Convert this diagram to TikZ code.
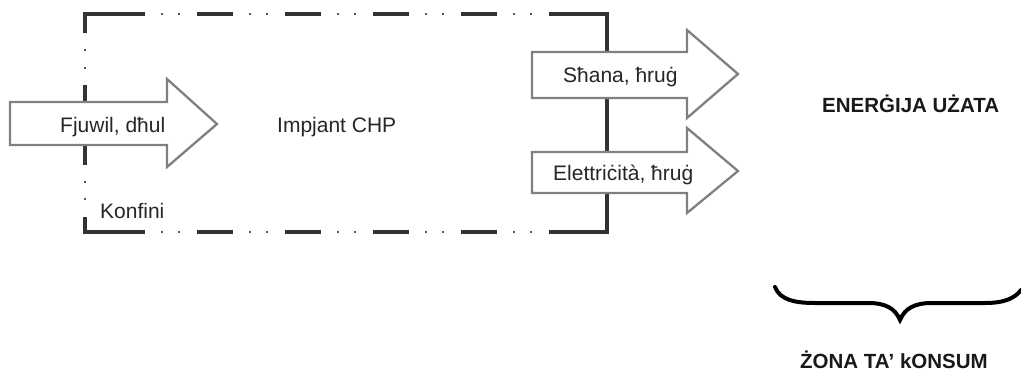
\documentclass[tikz,border=0pt]{standalone}
\usepackage{fontspec}
\setmainfont{Liberation Sans}
\begin{document}
\begin{tikzpicture}[x=1pt,y=-1pt,
  bound/.style={draw=black!80,line width=3.2pt},
  dotmark/.style={draw=black!65,line width=2.4pt},
  flow/.style={draw=black!50,line width=2.3pt,fill=white,line join=miter},
  lbl/.style={anchor=base west,inner sep=0pt,font=\fontsize{21}{24}\selectfont,text=black!85},
  blbl/.style={anchor=base west,inner sep=0pt,font=\fontsize{20.5}{24}\selectfont\bfseries,text=black!90}]
\useasboundingbox (0,0) rectangle (1021,378);
% boundary corners and right side
\draw[bound,line join=miter] (85,33) -- (85,14) -- (145,14);
\draw[bound,line join=miter] (85,217) -- (85,232) -- (145,232);
\draw[bound,line join=miter] (549,14) -- (607,14) -- (607,232) -- (549,232);
% top and bottom dashes
\foreach \i in {1,...,4}{
  \draw[bound] ({109+88*\i},14) -- ({145+88*\i},14);
  \draw[bound] ({109+88*\i},232) -- ({145+88*\i},232);
}
\foreach \i in {0,...,4}{
  \foreach \d in {17,34}{
    \draw[dotmark] ({145+88*\i+\d-1},14) -- ({145+88*\i+\d+1},14);
    \draw[dotmark] ({145+88*\i+\d-1},232) -- ({145+88*\i+\d+1},232);
  }
}
% left side
\draw[bound] (85,85) -- (85,165);
\foreach \y in {50,68,182,199}{
  \draw[dotmark] (85,\y-1) -- (85,\y+1);
}
% arrows
\draw[flow] (10,102) -- (167,102) -- (167,79) -- (217,124) -- (167,167) -- (167,145) -- (10,145) -- cycle;
\draw[flow] (532,52) -- (687,52) -- (687,30) -- (738,74) -- (687,118) -- (687,98) -- (532,98) -- cycle;
\draw[flow] (532,152) -- (687,152) -- (687,128) -- (738,171) -- (687,213) -- (687,193) -- (532,193) -- cycle;
% labels
\node[lbl] (fuel) at (60,132) {Fjuwil, dħul};
\node[lbl] (chp) at (277,132) {Impjant CHP};
\node[lbl] (konf) at (100,218) {Konfini};
\node[lbl] (heat) at (563,82) {Sħana, ħruġ};
\node[lbl] (elec) at (553,180) {Elettriċità, ħruġ};
\node[blbl] (used) at (822,112) {ENERĠIJA UŻATA};
\node[blbl] (zone) at (800,368) {ŻONA TA’ kONSUM};
% brace
\draw[black,line width=4pt,line cap=round]
  (775,287) .. controls (780,300) and (795,303) .. (815,303) -- (868,303)
  .. controls (885,303) and (895,308) .. (900,320)
  .. controls (905,308) and (915,303) .. (932,303) -- (985,303)
  .. controls (1005,303) and (1015,298) .. (1021,290);
\end{tikzpicture}
\end{document}
